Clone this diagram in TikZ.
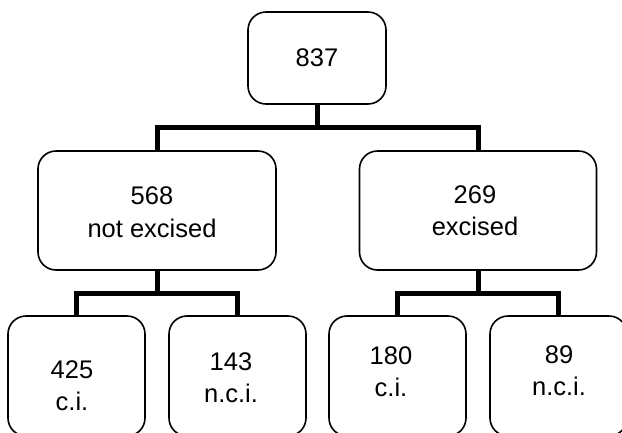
\documentclass[tikz,border=0pt]{standalone}
\usepackage{fontspec}
\setmainfont{Liberation Sans}
\begin{document}
\begin{tikzpicture}[x=1pt,y=-1pt,
  box/.style={draw, line width=1.6pt, rounded corners=18pt, inner sep=0pt},
  conn/.style={line width=5pt, line join=miter},
  lbl/.style={anchor=base, inner sep=0pt, font=\fontsize{25.5}{33}\selectfont}]
\useasboundingbox (0,0) rectangle (622,432);
\clip (0,0) rectangle (622,432);

% boxes
\node[box, minimum width=138pt, minimum height=92pt]  (top) at (317,58) {};
\node[box, minimum width=238pt, minimum height=119pt] (m1)  at (157,210.5) {};
\node[box, minimum width=237pt, minimum height=119pt] (m2)  at (478,210.5) {};
\node[box, minimum width=137pt, minimum height=120pt] (b1)  at (76.5,376) {};
\node[box, minimum width=137pt, minimum height=120pt] (b2)  at (237.5,376) {};
\node[box, minimum width=137pt, minimum height=120pt] (b3)  at (397.5,376) {};
\node[box, minimum width=137pt, minimum height=120pt] (b4)  at (558.5,376) {};

% labels
\node[lbl] (t0)  at (317,66)  {837};
\node[lbl] (t1a) at (152,204) {568};
\node[lbl] (t1b) at (152,237) {not excised};
\node[lbl] (t2a) at (475,203) {269};
\node[lbl] (t2b) at (475,235) {excised};
\node[lbl] (t3a) at (72,378)  {425};
\node[lbl] (t3b) at (72,410)  {c.i.};
\node[lbl] (t4a) at (231,370) {143};
\node[lbl] (t4b) at (231,402) {n.c.i.};
\node[lbl] (t5a) at (391,364) {180};
\node[lbl] (t5b) at (391,396) {c.i.};
\node[lbl] (t6a) at (559,363) {89};
\node[lbl] (t6b) at (559,395) {n.c.i.};

% junctions
\coordinate (j0) at (317,127);
\coordinate (j1) at (157,293);
\coordinate (j2) at (478,293);

% connectors
\draw[conn] (top.south) -- (j0);
\draw[conn] (m1.north) |- (j0) -| (m2.north);
\draw[conn] (m1.south) -- (j1);
\draw[conn] (b1.north) |- (j1) -| (b2.north);
\draw[conn] (m2.south) -- (j2);
\draw[conn] (b3.north) |- (j2) -| (b4.north);
\end{tikzpicture}
\end{document}
